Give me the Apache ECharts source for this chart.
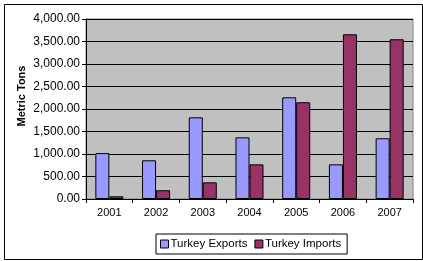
<!DOCTYPE html>
<html><head><meta charset="utf-8">
<script src="https://cdn.jsdelivr.net/npm/echarts@6/dist/echarts.min.js"></script>
<style>html,body{margin:0;padding:0;background:#fff}#c{width:423px;height:261px}</style>
</head><body><div id="c"></div>
<script>
const categories = ['2001','2002','2003','2004','2005','2006','2007'];
const exportsData = [1020, 860, 1815, 1370, 2260, 770, 1350];
const importsData = [60, 195, 370, 770, 2150, 3660, 3550];
const seriesNames = ['Turkey Exports', 'Turkey Imports'];
const yTicks = {min: 0, max: 4000, interval: 500};
const yTitle = 'Metric Tons';

const font = 'Liberation Sans, Arial, sans-serif';
const chart = echarts.init(document.getElementById('c'), null, {renderer: 'canvas'});
chart.setOption({
  animation: false,
  backgroundColor: '#ffffff',
  grid: {left: 86, right: 10, top: 19, bottom: 62, show: true, backgroundColor: '#C0C0C0', borderColor: '#808080', borderWidth: 1},
  xAxis: {
    type: 'category', data: categories,
    axisLine: {lineStyle: {color: '#000', width: 1}},
    axisTick: {show: true, length: 4, alignWithLabel: false, lineStyle: {color: '#000'}},
    axisLabel: {color: '#000', fontFamily: font, fontSize: 11, margin: 8}
  },
  yAxis: {
    type: 'value', min: yTicks.min, max: yTicks.max, interval: yTicks.interval,
    axisLine: {show: true, lineStyle: {color: '#000', width: 1}},
    axisTick: {show: true, length: 4, lineStyle: {color: '#000'}},
    splitLine: {show: true, lineStyle: {color: '#000', width: 1}},
    axisLabel: {color: '#000', fontFamily: font, fontSize: 12, margin: 6,
      formatter: v => v.toLocaleString('en-US', {minimumFractionDigits: 2, maximumFractionDigits: 2})}
  },
  legend: {
    data: seriesNames, left: 156, top: 234, orient: 'horizontal',
    itemWidth: 8, itemHeight: 8, itemGap: 7, icon: 'rect',
    borderColor: '#000', borderWidth: 1, padding: [4, 6, 4, 4],
    textStyle: {color: '#000', fontFamily: font, fontSize: 11.5, padding: [0, 0, 0, -3]},
    itemStyle: {borderColor: '#000', borderWidth: 1}
  },
  series: [
    {name: seriesNames[0], type: 'bar', data: exportsData, barGap: '0%', barCategoryGap: '40%',
     itemStyle: {color: '#9999FF', borderColor: '#000', borderWidth: 1}},
    {name: seriesNames[1], type: 'bar', data: importsData, barGap: '0%', barCategoryGap: '40%',
     itemStyle: {color: '#993366', borderColor: '#000', borderWidth: 1}}
  ],
  graphic: [
    {type: 'rect', left: 2, top: 2, shape: {x: 0, y: 0, width: 418, height: 255}, style: {fill: 'none', stroke: '#000', lineWidth: 1}, silent: true, z: -1},
    {type: 'text', x: 22, y: 96, rotation: Math.PI / 2, style: {text: yTitle, fontFamily: font, fontSize: 11, fontWeight: 'bold', fill: '#000', align: 'center', verticalAlign: 'middle'}}
  ]
});
</script></body></html>
